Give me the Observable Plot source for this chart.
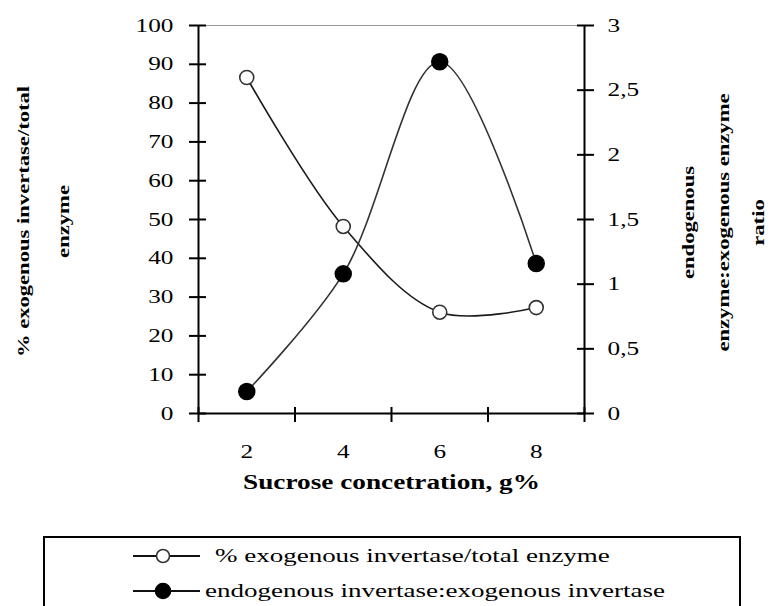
<!DOCTYPE html>
<html>
<head>
<meta charset="utf-8">
<script src="https://cdn.jsdelivr.net/npm/d3@7"></script>
<script src="https://cdn.jsdelivr.net/npm/@observablehq/plot@0.6"></script>
<style>
  html, body { margin: 0; padding: 0; background: #fff; }
  body { width: 773px; height: 606px; position: relative; overflow: hidden; font-family: "Liberation Serif", "Times New Roman", serif; }
  #chart { position: absolute; left: 0; top: 0; }
  #legend { position: absolute; left: 43px; top: 536px; width: 698px; height: 100px; border: 2px solid #000; border-bottom: none; box-sizing: border-box; }
  .row { position: absolute; height: 24px; display: flex; align-items: center; white-space: nowrap; }
  .row svg { display: block; }
  .lbl { display: inline-block; font-size: 19px; color: #000; transform: scaleX(1.42); transform-origin: left center; }
</style>
</head>
<body>
<div id="chart"></div>
<div id="legend"></div>
<script>
// ---- data ----
const sucrose = [2, 4, 6, 8];
const exogenousPct = [86.6, 48.2, 26.1, 27.3];
const endoExoRatio = [0.17, 1.08, 2.72, 1.16];
const leftTicks = [0, 10, 20, 30, 40, 50, 60, 70, 80, 90, 100];
const rightTicks = [0, 0.5, 1, 1.5, 2, 2.5, 3];
const rightTickLabels = ["0", "0,5", "1", "1,5", "2", "2,5", "3"];
const xTickLabels = ["2", "4", "6", "8"];
const xTitle = "Sucrose concetration, g%";
const leftTitle = "% exogenous invertase/total\nenzyme";
const rightTitle = "endogenous\nenzyme:exogenous enzyme\nratio";
const legendLabels = ["% exogenous invertase/total enzyme", "endogenous invertase:exogenous invertase"];

// ---- dual axis mapping (ratio 0..3 onto the left 0..100 scale) ----
const pctMax = 100, ratioMax = 3;
const toLeft = r => r * pctMax / ratioMax;
const exo = sucrose.map((x, i) => ({x, y: exogenousPct[i]}));
const endo = sucrose.map((x, i) => ({x, y: toLeft(endoExoRatio[i])}));
const rightTickPos = rightTicks.map(toLeft);
const xCatEdges = [1, 3, 5, 7, 9];

const plot = Plot.plot({
  width: 773,
  height: 530,
  marginLeft: 198,
  marginRight: 189,
  marginTop: 25,
  marginBottom: 117,
  style: {fontFamily: "'Liberation Serif', 'Times New Roman', serif", fontSize: "19px", background: "white", color: "black", overflow: "visible"},
  x: {type: "linear", domain: [1, 9], axis: null, label: null},
  y: {domain: [0, 100], axis: null, label: null},
  marks: [
    Plot.ruleY([100], {stroke: "#9a9a9a", strokeWidth: 1}),
    // left axis: ticks crossing, then labels
    Plot.axisY({ticks: leftTicks, tickSize: 17, dx: 8, tickFormat: () => "", strokeWidth: 2, label: null}),
    Plot.axisY({ticks: leftTicks, tickSize: 0, tickPadding: 25, label: null}),
    // right axis
    Plot.axisY({anchor: "right", ticks: rightTickPos, tickSize: 17, dx: -8, tickFormat: () => "", strokeWidth: 2, label: null}),
    Plot.axisY({anchor: "right", ticks: rightTickPos, tickSize: 0, tickPadding: 23, label: null,
      tickFormat: d => rightTickLabels[rightTickPos.findIndex(v => Math.abs(v - d) < 1e-6)]}),
    // x axis
    Plot.axisX({ticks: xCatEdges, tickSize: 15, dy: -6, tickFormat: () => "", strokeWidth: 2, label: null}),
    Plot.axisX({ticks: sucrose, tickSize: 0, tickPadding: 31, label: null,
      tickFormat: d => xTickLabels[sucrose.indexOf(d)]}),
    // frame lines
    Plot.ruleX([1, 9], {stroke: "black", strokeWidth: 2}),
    Plot.ruleY([0], {stroke: "black", strokeWidth: 2}),
    // series
    Plot.line(exo, {x: "x", y: "y", curve: "catmull-rom", stroke: "#1a1a1a", strokeWidth: 1.6}),
    Plot.line(endo, {x: "x", y: "y", curve: "catmull-rom", stroke: "#333", strokeWidth: 1.6}),
    Plot.dot(exo, {x: "x", y: "y", r: 7, fill: "white", stroke: "#333", strokeWidth: 1.6}),
    Plot.dot(endo, {x: "x", y: "y", r: 8, fill: "black", stroke: "black"}),
    // titles
    Plot.text([leftTitle], {text: d => d, frameAnchor: "left", textAnchor: "middle", lineAnchor: "middle", dx: -162, dy: 2, rotate: -90, fontSize: 17, fontWeight: "bold", lineHeight: 2.3}),
    Plot.text([rightTitle], {text: d => d, frameAnchor: "right", textAnchor: "middle", lineAnchor: "middle", dx: 133, dy: 3, rotate: -90, fontSize: 17, fontWeight: "bold", lineHeight: 2.05}),
    Plot.text([xTitle], {text: d => d, frameAnchor: "bottom", dy: 75, fontSize: 20.5, fontWeight: "bold"})
  ]
});

// the reference's type is horizontally stretched
plot.querySelectorAll("text").forEach(t => {
  const tr = t.getAttribute("transform") || "";
  t.setAttribute("transform", (tr + " scale(1.33,1)").trim());
});
document.getElementById("chart").appendChild(plot);

// ---- legend ----
const legend = document.getElementById("legend");
const rows = [
  {label: legendLabels[0], top: 554 - 536 - 12, textLeft: 215, fill: "white", r: 6.5},
  {label: legendLabels[1], top: 589 - 536 - 12, textLeft: 205, fill: "black", r: 7.5}
];
rows.forEach(rw => {
  const div = document.createElement("div");
  div.className = "row";
  div.style.left = (133 - 45) + "px";
  div.style.top = rw.top + "px";
  const ns = "http://www.w3.org/2000/svg";
  const s = document.createElementNS(ns, "svg");
  s.setAttribute("width", 67); s.setAttribute("height", 24);
  const ln = document.createElementNS(ns, "line");
  ln.setAttribute("x1", 0); ln.setAttribute("x2", 67); ln.setAttribute("y1", 12); ln.setAttribute("y2", 12);
  ln.setAttribute("stroke", "#111"); ln.setAttribute("stroke-width", 2);
  const c = document.createElementNS(ns, "circle");
  c.setAttribute("cx", 30); c.setAttribute("cy", 12); c.setAttribute("r", rw.r);
  c.setAttribute("fill", rw.fill); c.setAttribute("stroke", rw.fill === "white" ? "#333" : "black"); c.setAttribute("stroke-width", 1.6);
  s.appendChild(ln); s.appendChild(c);
  div.appendChild(s);
  const sp = document.createElement("span");
  sp.className = "lbl";
  sp.style.marginLeft = (rw.textLeft - 200) + "px";
  sp.textContent = rw.label;
  div.appendChild(sp);
  legend.appendChild(div);
});
</script>
</body>
</html>
